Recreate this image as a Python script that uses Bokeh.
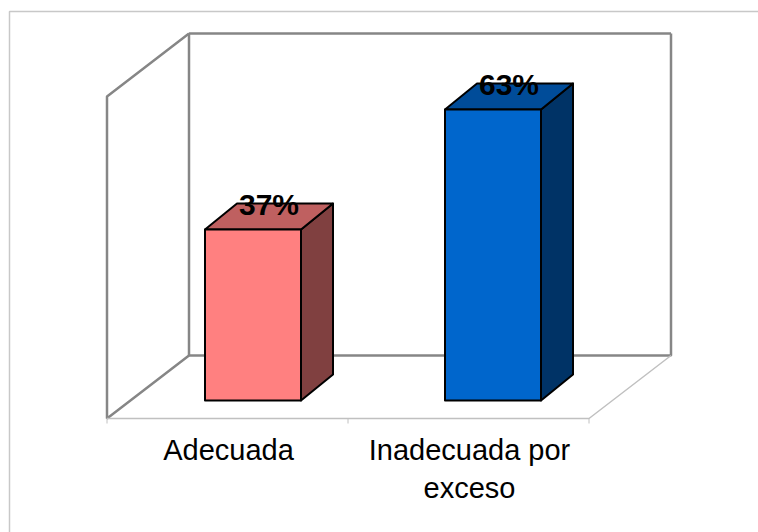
from bokeh.embed import file_html
from bokeh.resources import INLINE
from bokeh.plotting import figure
from bokeh.models import Range1d
from bokeh.core.properties import value

# Chart content
categories = ["Adecuada", "Inadecuada por\nexceso"]
percentages = [37, 63]
value_labels = ["37%", "63%"]
front_colors = ["#FF8080", "#0066CC"]
top_colors = ["#BF6060", "#004C99"]
side_colors = ["#804040", "#003366"]

# Page size and the pixels-per-unit of the two scales
WIDTH, HEIGHT = 758, 532
PX_PER_CAT = 241
PX_PER_PCT = 4.62
ORIGIN_X, ORIGIN_Y = 106.5, 400    # screen position of category 0 / value 0 on the bar base

# Oblique projection depth of the 3-D box, in data units
DX = 32 / PX_PER_CAT
DY = 26 / PX_PER_PCT
# Bars are placed inside each category slot
BAR_LEFT = 98 / PX_PER_CAT
BAR_WIDTH = 96 / PX_PER_CAT
BAR_STEP = 240 / PX_PER_CAT

# Chart box extents, in data units
FLOOR = -18 / PX_PER_PCT
WALL_H = 322 / PX_PER_PCT
BACK_DX = 82 / PX_PER_CAT
BACK_DY = 63 / PX_PER_PCT
N = len(categories)

# Vertical correction for where the browser places a text baseline
TEXT_SHIFT_PX = 11

p = figure(
    width=WIDTH, height=HEIGHT, output_backend="svg", toolbar_location=None,
    x_range=Range1d(-ORIGIN_X / PX_PER_CAT, (WIDTH - ORIGIN_X) / PX_PER_CAT),
    y_range=Range1d((ORIGIN_Y - HEIGHT) / PX_PER_PCT, ORIGIN_Y / PX_PER_PCT),
    min_border=0, outline_line_color=None, background_fill_color="white",
)
p.axis.visible = False
p.grid.visible = False


def px(x):
    return (x - ORIGIN_X) / PX_PER_CAT


def py(y):
    return (ORIGIN_Y - y) / PX_PER_PCT


# Outer chart frame: left and top edges only reach the page
p.line([px(9), px(9), px(758)], [py(532), py(11), py(11)], line_color="#C8C8C8", line_width=1.5)

# Back wall and left wall
wall_color = "#868686"
p.line(
    [BACK_DX, BACK_DX, BACK_DX + N, BACK_DX + N],
    [FLOOR + BACK_DY + WALL_H, FLOOR + BACK_DY, FLOOR + BACK_DY, FLOOR + BACK_DY + WALL_H],
    line_color=wall_color, line_width=2.5,
)
p.line([BACK_DX, BACK_DX + N], [FLOOR + BACK_DY + WALL_H] * 2, line_color=wall_color, line_width=2.5)
p.line(
    [BACK_DX, 0, 0, BACK_DX],
    [FLOOR + BACK_DY + WALL_H, FLOOR + WALL_H, FLOOR, FLOOR + BACK_DY],
    line_color=wall_color, line_width=2.5,
)

# Floor edges and category ticks
floor_color = "#C0C0C0"
p.line([0, N, N + BACK_DX], [FLOOR, FLOOR, FLOOR + BACK_DY], line_color=floor_color, line_width=1.5)
p.segment(
    x0=list(range(N + 1)), x1=list(range(N + 1)),
    y0=[FLOOR] * (N + 1), y1=[FLOOR - 5 / PX_PER_PCT] * (N + 1),
    line_color=floor_color, line_width=1,
)

# 3-D bars: side face, top face, front face
for i, v in enumerate(percentages):
    x0 = i * BAR_STEP + BAR_LEFT
    x1 = x0 + BAR_WIDTH
    p.patch([x1, x1 + DX, x1 + DX, x1], [0, DY, v + DY, v],
            fill_color=side_colors[i], line_color="black", line_width=2, line_join="round")
    p.patch([x0, x1, x1 + DX, x0 + DX], [v, v, v + DY, v + DY],
            fill_color=top_colors[i], line_color="black", line_width=2, line_join="round")
    p.patch([x0, x1, x1, x0], [0, 0, v, v],
            fill_color=front_colors[i], line_color="black", line_width=2, line_join="round")

# Value labels sit over the top face of each bar
p.text(
    x=[i * BAR_STEP + BAR_LEFT + BAR_WIDTH / 2 + DX / 2 for i in range(N)],
    y=[v + (14 + TEXT_SHIFT_PX) / PX_PER_PCT for v in percentages],
    text=value_labels, text_font=value("Liberation Sans"), text_font_style="bold",
    text_font_size="30px", text_align="center", text_baseline="alphabetic", text_color="black",
)

# Category labels under the floor, one row of text per line
for i, label in enumerate(categories):
    for j, row in enumerate(label.split("\n")):
        p.text(
            x=[i + 0.5 + 1 / PX_PER_CAT], y=[py(460 + 38 * j - TEXT_SHIFT_PX)], text=[row],
            text_font=value("Liberation Sans"), text_font_size="29px",
            text_align="center", text_baseline="alphabetic", text_color="black",
        )

open("out.html", "w").write(file_html(p, INLINE))
